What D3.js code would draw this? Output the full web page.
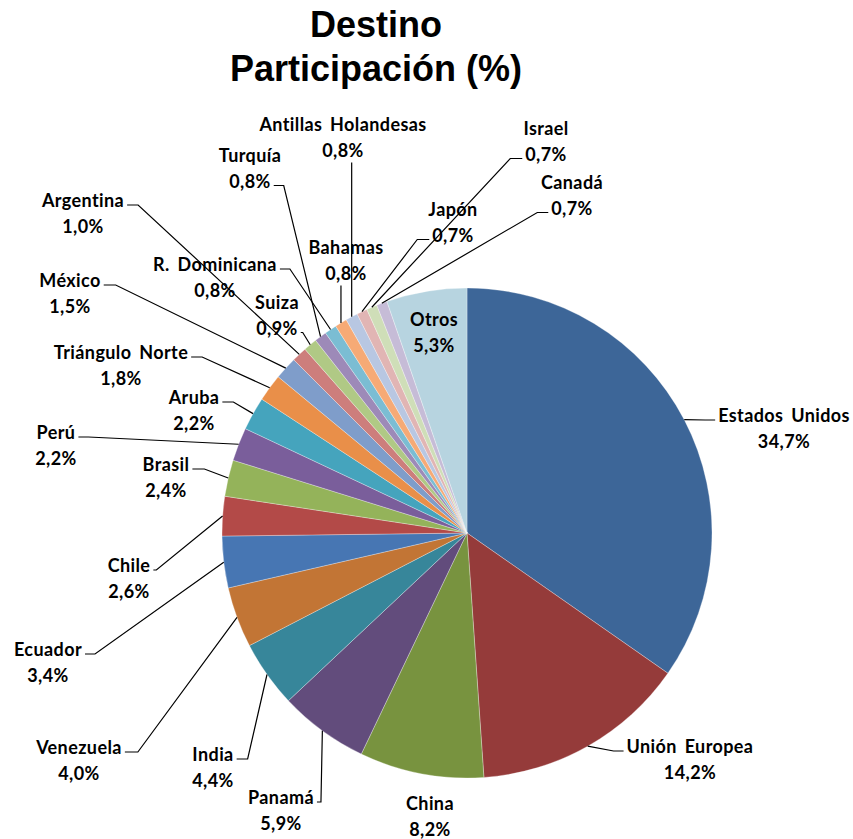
<!DOCTYPE html>
<html>
<head>
<meta charset="utf-8">
<script src="https://cdn.jsdelivr.net/npm/d3@7"></script>
<style>
  body { margin: 0; background: #fff; }
  .lbl { font-family: Lato, "Open Sans", sans-serif; font-weight: 700; font-size: 18px;
         letter-spacing: 0.4px; word-spacing: 3px; fill: #000; }
</style>
</head>
<body>
<div id="chart"></div>
<script>
// data, clockwise from 12 o'clock
var paises = ["Estados Unidos", "Unión Europea", "China", "Panamá", "India", "Venezuela",
  "Ecuador", "Chile", "Brasil", "Perú", "Aruba", "Triángulo Norte", "México", "Argentina",
  "Suiza", "Turquía", "R. Dominicana", "Bahamas", "Antillas Holandesas", "Japón", "Israel",
  "Canadá", "Otros"];
var valores = [34.7, 14.2, 8.2, 5.9, 4.4, 4.0, 3.4, 2.6, 2.4, 2.2, 2.2, 1.8, 1.5, 1.0,
  0.9, 0.8, 0.8, 0.8, 0.8, 0.7, 0.7, 0.7, 5.3];

var colores = ["#3d6698", "#953b3a", "#78933f", "#624c7c", "#37869a", "#c27535",
  "#4776b3", "#b34a48", "#94b35a", "#7a5e9b", "#45a4bd", "#e98f49", "#7f9dca", "#cd7e7c",
  "#b0c985", "#9d8ab8", "#7bbdd3", "#f6aa76", "#b8c7e2", "#e1b5b4", "#cfdeb8", "#c6bcd7",
  "#b7d4e0"];

// label layout: text centre x, first line y, where the leader attaches, which line, elbow gap
var posEtiquetas = [
  [784, 416, "l", 0, 10], [690, 747, "l", 0, 10], [430, 804, "n", 0, 0],
  [281, 798, "r", 0, 4], [213, 755, "r", 0, 11], [79, 748, "r", 0, 13],
  [48, 650, "r", 0, 10], [129, 566, "r", 0, 3], [166, 465, "r", 0, 12],
  [56, 433, "r", 0, 10], [194, 398, "r", 0, 11], [121, 353, "r", 0, 11],
  [70, 281, "r", 0, 12], [83, 201, "r", 0, 11], [277, 303, "r", 1, 2],
  [250, 156, "r", 1, 10], [215, 265, "r", 0, 10], [346, 248, "b", 1, 0],
  [343, 125, "b", 1, 0], [453, 210, "l", 1, 12], [546, 129, "l", 1, 12],
  [572, 183, "l", 1, 11], [434, 320, "n", 0, 0]
];

var W = 853, H = 839;
var cx = 467, cy = 533, radio = 245, salto = 25.5;

var svg = d3.select("#chart").append("svg")
    .attr("width", W)
    .attr("height", H);

// title
svg.append("text")
    .attr("x", 376).attr("y", 37)
    .attr("text-anchor", "middle")
    .style("font-family", "'Liberation Sans', Arial, sans-serif")
    .style("font-weight", "700").style("font-size", "36px")
    .text("Destino");
svg.append("text")
    .attr("x", 376).attr("y", 81)
    .attr("text-anchor", "middle")
    .style("font-family", "'Liberation Sans', Arial, sans-serif")
    .style("font-weight", "700").style("font-size", "36px")
    .text("Participación (%)");

var pie = d3.pie().sort(null).value(function(d) { return d; });
var arcos = pie(valores);
var arc = d3.arc().innerRadius(0).outerRadius(radio);

var g = svg.append("g").attr("transform", "translate(" + cx + "," + cy + ")");

g.selectAll("path")
    .data(arcos)
    .enter()
    .append("path")
      .attr("d", arc)
      .style("fill", function(d, i) { return colores[i]; })
      .style("stroke", "#fff")
      .style("stroke-opacity", 0.5)
      .style("stroke-width", 0.6);

var fmt = function(v) { return d3.format(".1f")(v).replace(".", ",") + "%"; };

var capa = svg.append("g");

arcos.forEach(function(d, i) {
  var p = posEtiquetas[i];
  var t = capa.append("text")
      .attr("class", "lbl")
      .attr("text-anchor", "middle");
  var l0 = t.append("tspan").attr("x", p[0]).attr("y", p[1]).attr("dy", "0.35em").text(paises[i]);
  var l1 = t.append("tspan").attr("x", p[0]).attr("y", p[1] + salto).attr("dy", "0.35em").text(fmt(valores[i]));

  if (p[2] === "n") return;

  // point on the pie edge at the middle of the slice
  var a = (d.startAngle + d.endAngle) / 2;
  var ex = cx + radio * Math.sin(a), ey = cy - radio * Math.cos(a);
  var puntos;
  if (p[2] === "b") {
    puntos = [[ex, p[1] + salto + 12], [ex, ey]];
  } else {
    var w = (p[3] === 0 ? l0 : l1).node().getComputedTextLength();
    var ay = p[1] + p[3] * salto + 4;
    var ax = p[2] === "r" ? p[0] + w / 2 + 3 : p[0] - w / 2 - 3;
    var bx = p[2] === "r" ? ax + p[4] : ax - p[4];
    puntos = [[ax, ay], [bx, ay], [ex, ey]];
  }
  capa.append("path")
      .attr("d", d3.line()(puntos))
      .style("fill", "none")
      .style("stroke", "#000")
      .style("stroke-width", 1.2);
});
</script>
</body>
</html>
